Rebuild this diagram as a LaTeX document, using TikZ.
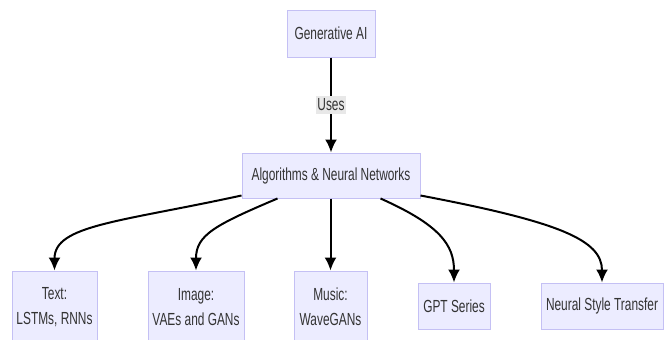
\documentclass[tikz,border=0pt]{standalone}
\usepackage{fontspec}
\setmainfont[FakeStretch=0.68]{Liberation Sans}
\usetikzlibrary{arrows.meta,calc}
\definecolor{boxfill}{HTML}{ECECFF}
\definecolor{boxline}{HTML}{C4C0F4}
\definecolor{lblfill}{HTML}{E8E8E8}
\definecolor{txt}{HTML}{333333}
\begin{document}
\begin{tikzpicture}[x=1pt,y=-1pt,
  box/.style={draw=boxline,fill=boxfill,line width=1pt,inner sep=0pt,align=center,
    font=\fontsize{17.5}{25}\selectfont,text=txt},
  conn/.style={line width=2pt,-{Latex[length=13pt,width=12pt]}},
  lbl/.style={fill=lblfill,inner xsep=1.5pt,inner ysep=3pt,font=\fontsize{17.5}{20}\selectfont,text=txt}]
\clip (0,0) rectangle (664,340);
\fill[white] (0,0) rectangle (664,340);
\node[box,minimum width=88pt,minimum height=47pt] (gen) at (331,33.5) {Generative AI};
\node[box,minimum width=178pt,minimum height=45pt] (alg) at (331,175.5) {Algorithms \& Neural Networks};
\node[box,minimum width=85pt,minimum height=72pt] (text) at (54.5,307) {Text:\\LSTMs, RNNs};
\node[box,minimum width=96pt,minimum height=72pt] (img) at (196,307) {Image:\\VAEs and GANs};
\node[box,minimum width=73pt,minimum height=72pt] (mus) at (330.5,307) {Music:\\WaveGANs};
\node[box,minimum width=72pt,minimum height=46pt] (gpt) at (454,306) {GPT Series};
\node[box,minimum width=122pt,minimum height=46pt] (nst) at (602,306) {Neural Style Transfer};
\draw[conn] (gen) -- node[lbl] (uses) {Uses} (alg);
\coordinate (s1) at ($(alg.south west)+(0,-3)$);
\coordinate (s2) at ($(alg.south west)+(36,0)$);
\coordinate (s4) at ($(alg.south east)+(-40,0)$);
\coordinate (s5) at ($(alg.south east)+(0,-3)$);
\draw[conn] (s1) .. controls (120,222) and (54.5,225) .. (text.north);
\draw[conn] (s2) .. controls (215,225) and (196,235) .. (img.north);
\draw[conn] (alg.south -| mus.north) -- (mus.north);
\draw[conn] (s4) .. controls (440,225) and (454,245) .. (gpt.north);
\draw[conn] (s5) .. controls (560,222) and (602,240) .. (nst.north);
\end{tikzpicture}
\end{document}
